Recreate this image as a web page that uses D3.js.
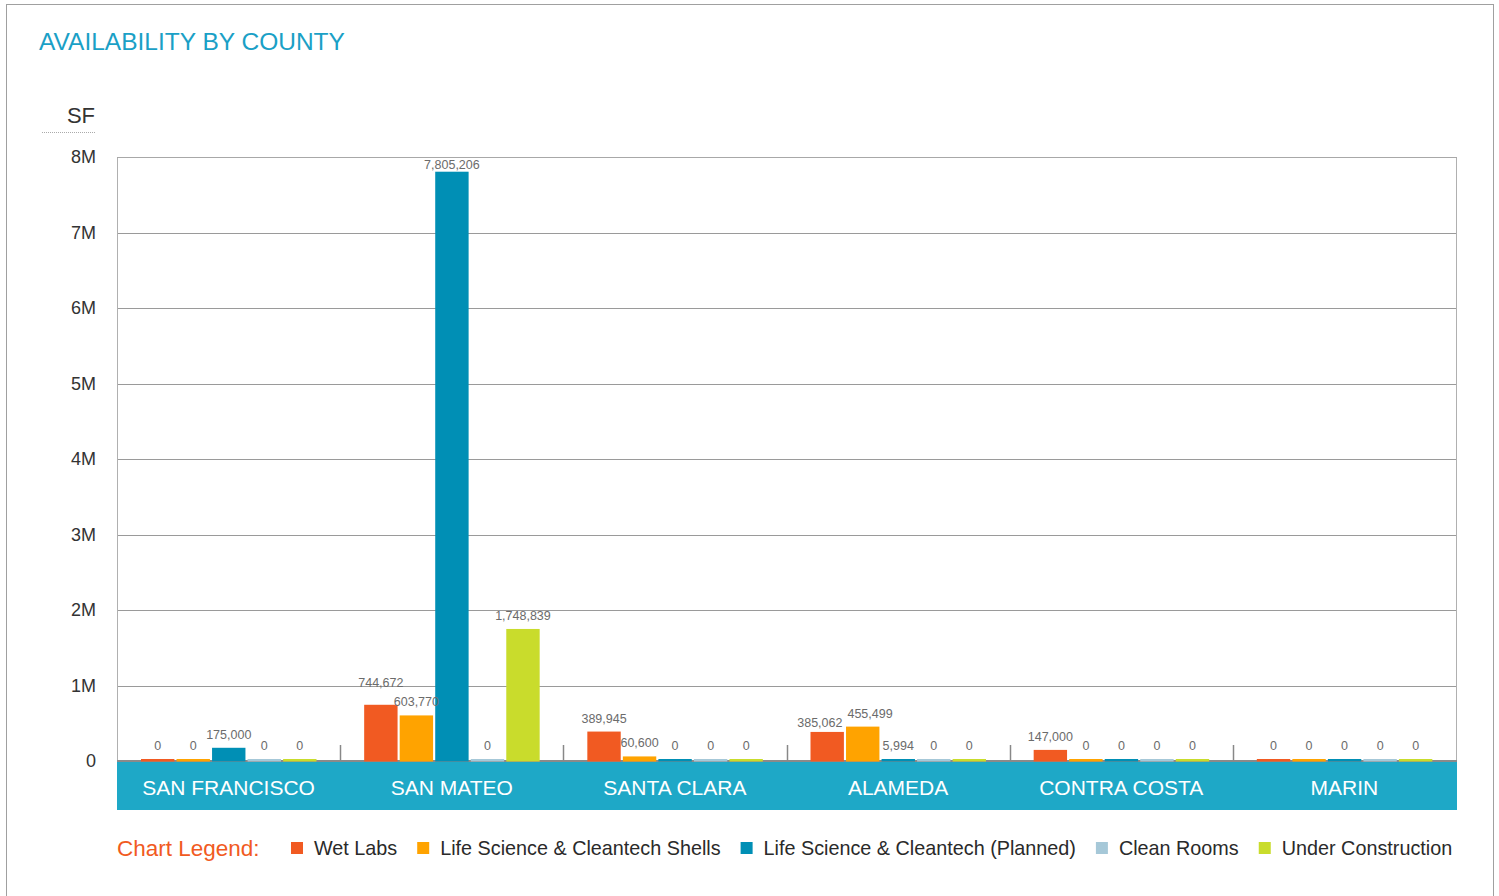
<!DOCTYPE html>
<html><head><meta charset="utf-8">
<script src="https://cdn.jsdelivr.net/npm/d3@7"></script>
<style>
body{margin:0;background:#fff;}
text{font-family:"Liberation Sans",Arial,Helvetica,sans-serif;}
</style></head>
<body><svg id="c" width="1499" height="896"></svg>
<script>
const counties = ["SAN FRANCISCO","SAN MATEO","SANTA CLARA","ALAMEDA","CONTRA COSTA","MARIN"];
const seriesNames = ["Wet Labs","Life Science & Cleantech Shells","Life Science & Cleantech (Planned)","Clean Rooms","Under Construction"];
const seriesColors = ["#f15a22","#ffa300","#008fb5","#a6c8d8","#c9dc2c"];
const wetLabs      = [0, 744672, 389945, 385062, 147000, 0];
const shells       = [0, 603770, 60600, 455499, 0, 0];
const planned      = [175000, 7805206, 0, 5994, 0, 0];
const cleanRooms   = [0, 0, 0, 0, 0, 0];
const underConstr  = [0, 1748839, 0, 0, 0, 0];
const yTicks = [0, 1e6, 2e6, 3e6, 4e6, 5e6, 6e6, 7e6, 8e6];
const yTickLabels = ["0","1M","2M","3M","4M","5M","6M","7M","8M"];

const series = [wetLabs, shells, planned, cleanRooms, underConstr];
const svg = d3.select("#c");
const L = 117, R = 1456, T = 157, B = 761;

// outer frame
svg.append("rect").attr("x",6.5).attr("y",4.5).attr("width",1487).attr("height",900)
  .attr("fill","none").attr("stroke","#a0a0a0").attr("stroke-width",1);

// title
svg.append("text").attr("x",39).attr("y",50).text("AVAILABILITY BY COUNTY")
  .attr("fill","#1aa0c6").attr("font-size",24.5);

// unit label
svg.append("text").attr("x",95).attr("y",123).attr("text-anchor","end").text("SF")
  .attr("fill","#333").attr("font-size",22);
svg.append("line").attr("x1",42).attr("x2",95).attr("y1",132.5).attr("y2",132.5)
  .attr("stroke","#aaa").attr("stroke-dasharray","1,1");

const y = d3.scaleLinear().domain([0,8e6]).range([B,T]);
const x0 = d3.scaleBand().domain(counties).range([L,R]).paddingInner(0).paddingOuter(0);
const x1 = d3.scaleBand().domain(d3.range(5)).range([24, 199.5]).paddingInner(0.06).paddingOuter(0);

// gridlines
svg.append("g").selectAll("line").data(yTicks.slice(1)).join("line")
  .attr("x1",L).attr("x2",R).attr("y1",d=>Math.round(y(d))+0.5).attr("y2",d=>Math.round(y(d))+0.5)
  .attr("stroke","#9a9a9a").attr("stroke-width",1);
// frame sides
svg.append("line").attr("x1",L+0.5).attr("x2",L+0.5).attr("y1",T).attr("y2",B).attr("stroke","#b0b0b0");
svg.append("line").attr("x1",R+0.5).attr("x2",R+0.5).attr("y1",T).attr("y2",B).attr("stroke","#b0b0b0");

// y axis labels
const yAxis = d3.axisLeft(y).tickValues(yTicks).tickFormat((d,i)=>yTickLabels[i]).tickSize(0).tickPadding(0);
const ya = svg.append("g").attr("transform",`translate(96,0)`).call(yAxis);
ya.select(".domain").remove();
ya.selectAll("text").attr("font-size",18).attr("fill","#333").attr("font-family","Liberation Sans, Arial, sans-serif");

// baseline
svg.append("line").attr("x1",L).attr("x2",R+1).attr("y1",B).attr("y2",B)
  .attr("stroke","#8a8a8a").attr("stroke-width",2);

// category band
svg.append("rect").attr("x",L).attr("y",B+1).attr("width",R-L+1).attr("height",48).attr("fill","#1ea8c7");
svg.append("g").selectAll("text").data(counties).join("text")
  .attr("x",d=>x0(d)+x0.bandwidth()/2).attr("y",794.5).attr("text-anchor","middle")
  .attr("fill","#fff").attr("font-size",21).text(d=>d);

// category separator ticks
svg.append("g").selectAll("line").data(counties.slice(1)).join("line")
  .attr("x1",d=>Math.round(x0(d))+0.5).attr("x2",d=>Math.round(x0(d))+0.5)
  .attr("y1",745).attr("y2",B).attr("stroke","#888").attr("stroke-width",1.5);

// bars
const groups = svg.append("g").selectAll("g").data(counties).join("g")
  .attr("transform",d=>`translate(${x0(d)},0)`);
groups.each(function(c,ci){
  const g = d3.select(this);
  series.forEach((s,si)=>{
    const v = s[ci];
    const h = Math.max(B + 0.5 - y(v), 2.5);
    g.append("rect").attr("x",x1(si)).attr("width",x1.bandwidth())
      .attr("y",B+0.5-h).attr("height",h).attr("fill",seriesColors[si]);
  });
});

// top border
svg.append("line").attr("x1",L).attr("x2",R+1).attr("y1",T+0.5).attr("y2",T+0.5).attr("stroke","#a8a8a8");

// value labels with simple collision handling
const fmt = d3.format(",");
groups.each(function(c,ci){
  const g = d3.select(this);
  const labels = series.map((s,si)=>{
    const v = s[ci];
    const top = Math.min(y(v), B-2.5);
    return {v, top, x: x1(si)+x1.bandwidth()/2, y: Math.max(top - 9, T + 12)};
  });
  const nodes = labels.map(d=> g.append("text").attr("x",d.x).attr("y",d.y).attr("text-anchor","middle")
      .attr("fill","#6b6b6b").attr("font-size",12.5).text(fmt(d.v)));
  for (let i=0;i<labels.length-1;i++){
    const a = labels[i], b = labels[i+1];
    const wa = nodes[i].node().getComputedTextLength(), wb = nodes[i+1].node().getComputedTextLength();
    const hOver = (a.x + wa/2) - (b.x - wb/2);
    if (hOver > 0 && Math.abs(a.y - b.y) < 13) {
      if (a.y < b.y) { // left taller: lift left label
        a.y = a.y - 9; nodes[i].attr("y", a.y);
      } else {        // right taller: spread apart horizontally
        const s = hOver/2 + 2.5;
        a.x -= s; b.x += s;
        a.y = a.top - 5; nodes[i].attr("y", a.y);
        nodes[i].attr("x", a.x); nodes[i+1].attr("x", b.x);
      }
    }
  }
});

// legend
svg.append("text").attr("x",117).attr("y",856).attr("fill","#f15a22").attr("font-size",22.5).text("Chart Legend:");
let lx = 291;
seriesNames.forEach((n,i)=>{
  svg.append("rect").attr("x",lx).attr("y",842).attr("width",12).attr("height",12).attr("fill",seriesColors[i]);
  const t = svg.append("text").attr("x",lx+23).attr("y",855).attr("fill","#2a2a2a").attr("font-size",19.8).text(n);
  lx += 23 + t.node().getComputedTextLength() + 20;
});
</script></body></html>
